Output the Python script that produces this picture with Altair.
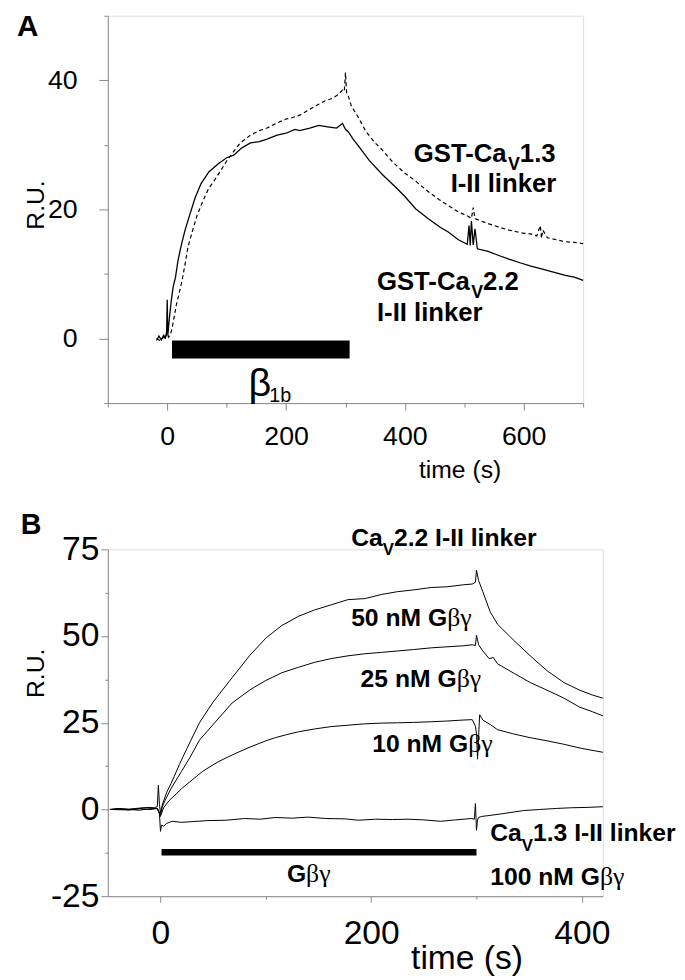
import altair as alt
import pandas as pd

# ---------------- Panel A data (time s, R.U.) ----------------
A22_t = [-18, -14, -10, -6, -3, -1, 0, 1, 2, 4, 7, 10, 14, 18, 23, 30, 38, 47, 57, 70, 85, 100, 112, 125,
         140, 155, 168, 185, 200, 215, 223, 240, 255, 270, 285, 295, 300, 305, 312, 323, 340, 362, 385, 400,
         418, 440, 460, 473, 490, 505, 508, 510, 512, 515, 518, 522, 540, 557, 575, 595, 612, 630, 650, 670,
         685, 700]
A22_ru = [-0.3, 0.4, -0.2, 0.5, 0.1, 1.0, 6.0, 0.5, 1.5, 3.5, 6.0, 8.0, 9.5, 12.0, 14.2, 16.8, 19.2, 21.8,
          24.0, 25.8, 27.0, 28.0, 28.4, 29.5, 30.3, 30.5, 30.9, 31.5, 31.8, 32.4, 32.2, 32.6, 33.0, 32.8,
          32.6, 33.3, 32.4, 32.0, 31.0, 29.7, 27.6, 25.4, 23.4, 22.0, 20.1, 18.5, 17.2, 16.5, 15.3, 14.6,
          17.5, 14.4, 18.2, 14.5, 17.0, 13.9, 13.5, 12.9, 12.3, 11.7, 11.2, 10.8, 10.3, 9.8, 9.5, 9.0]

A13_t = [-18, -12, -6, -2, 0, 2, 5, 8, 12, 16, 20, 25, 30, 35, 42, 50, 60, 70, 78, 90, 100, 112, 123, 140,
         155, 168, 185, 200, 210, 223, 240, 255, 265, 278, 288, 295, 298, 300, 302, 305, 310, 320, 335, 350,
         362, 380, 400, 418, 440, 458, 473, 490, 505, 512, 515, 518, 525, 540, 557, 575, 590, 600, 612, 622,
         628, 630, 632, 640, 655, 670, 685, 700]
A13_ru = [0.0, -0.3, 0.2, 0.0, 1.5, 0.2, 0.5, 1.5, 3.5, 5.5, 7.0, 9.0, 11.5, 14.2, 16.5, 19.0, 21.3, 23.3,
          24.3, 26.0, 27.5, 29.0, 30.3, 31.5, 32.2, 32.6, 33.4, 34.0, 34.2, 34.6, 35.5, 36.3, 36.8, 37.2,
          37.8, 38.5, 38.3, 41.2, 38.0, 37.5, 36.0, 34.5, 32.0, 30.3, 29.2, 27.3, 25.6, 24.4, 22.7, 21.5,
          20.6, 19.6, 19.0, 18.6, 20.3, 18.6, 18.3, 17.8, 17.3, 16.8, 16.5, 16.3, 16.2, 15.9, 17.5, 15.5,
          16.8, 15.6, 15.3, 15.0, 14.9, 14.7]

A_bar = {"t0": [8], "t1": [307], "y0": [-0.3], "y1": [-3.1]}

# ---------------- Panel B data ----------------
B50_t = [-48, -40, -30, -20, -12, -6, -3, -2, -1, 0, 1, 3, 6, 10, 13, 18, 25, 37, 50, 68, 85, 100, 115, 131,
         146, 162, 178, 194, 210, 225, 240, 257, 272, 288, 296, 299, 300, 302, 306, 313, 320, 336, 351, 367,
         383, 398, 410, 420]
B50_ru = [0.0, 0.2, -0.2, 0.3, 0.6, 0.5, 0.8, 7.0, 1.5, -1.0, 0.5, 2.5, 5.0, 7.5, 9.5, 13.0, 17.5, 25.0,
          31.0, 38.0, 44.5, 49.4, 53.0, 55.7, 57.5, 59.0, 60.5, 60.8, 62.0, 62.8, 63.3, 64.0, 64.2, 64.8,
          65.0, 65.5, 69.0, 66.0, 62.8, 57.0, 53.4, 48.6, 44.3, 40.0, 36.6, 34.4, 33.0, 32.1]

B25_t = [-48, -35, -20, -10, -3, 0, 2, 5, 10, 15, 20, 28, 37, 50, 68, 85, 100, 115, 131, 146, 162, 178, 194,
         210, 225, 240, 257, 272, 288, 296, 299, 300, 302, 306, 312, 316, 320, 336, 351, 367, 383, 398, 410,
         420]
B25_ru = [0.0, 0.1, -0.2, 0.2, 0.3, -1.5, 1.0, 3.0, 6.0, 8.5, 11.0, 15.0, 20.0, 24.5, 30.7, 34.5, 37.2, 39.4,
          41.0, 42.4, 43.5, 44.3, 44.9, 45.3, 45.7, 46.1, 46.6, 46.9, 47.2, 47.5, 47.3, 50.3, 47.5, 45.7,
          43.5, 43.8, 42.0, 39.2, 36.6, 34.4, 32.1, 29.5, 28.2, 27.0]

B10_t = [-48, -35, -20, -10, -3, 0, 3, 8, 15, 20, 30, 40, 55, 70, 85, 100, 109, 120, 131, 146, 162, 178, 194,
         210, 225, 240, 257, 272, 288, 296, 299, 300, 301, 303, 306, 313, 320, 335, 351, 367, 383, 400, 420]
B10_ru = [0.0, -0.1, 0.2, 0.0, 0.3, -2.0, 0.5, 2.5, 4.5, 6.0, 8.5, 11.0, 13.8, 16.0, 18.0, 19.8, 20.7, 21.6,
          22.4, 23.2, 23.9, 24.3, 24.7, 24.9, 25.0, 25.1, 25.3, 25.5, 25.8, 25.9, 24.0, 22.0, 14.5, 27.3,
          25.8, 24.5, 23.0, 21.8, 20.7, 19.8, 18.8, 17.6, 16.5]

B13_t = [-48, -40, -30, -20, -12, -6, -3, -1, 0, 1, 3, 6, 11, 20, 30, 45, 62, 80, 95, 109, 125, 140, 157,
         175, 188, 204, 220, 235, 250, 266, 280, 295, 298, 299, 300, 301, 302, 305, 313, 325, 345, 360, 376,
         390, 405, 420]
B13_ru = [0.0, 0.3, 0.1, 0.4, 0.5, 0.3, 0.2, -1.0, -6.3, -4.5, -4.8, -4.0, -3.4, -3.7, -3.5, -3.2, -3.1, -2.6,
          -2.8, -2.3, -2.5, -2.2, -2.6, -2.7, -3.1, -2.8, -2.9, -2.8, -3.0, -3.4, -3.0, -2.6, -2.8, 1.7,
          -6.0, -3.0, -2.3, -2.0, -1.7, -1.2, -0.3, 0.0, 0.3, 0.5, 0.6, 0.8]

B_bar = {"t0": [1], "t1": [300], "y0": [-11.4], "y1": [-13.3]}

# Text annotations: anchor (time, R.U.) and parts (text, style)
A_labels = [
    (415, 27.4, [("GST-Ca", "b"), ("V", "sub"), ("1.3", "b")]),
    (477, 22.7, [("I-II linker", "b")]),
    (353, 7.5, [("GST-Ca", "b"), ("V", "sub"), ("2.2", "b")]),
    (353, 2.75, [("I-II linker", "b")]),
    (137, -8.9, [("β", "big"), ("1b", "small")]),
]
B_labels = [
    (181, 76.1, [("Ca", "b"), ("V", "sub"), ("2.2 I-II linker", "b")]),
    (181, 52.8, [("50 nM G", "b"), ("βγ", "greek")]),
    (190, 35.2, [("25 nM G", "b"), ("βγ", "greek")]),
    (201, 16.5, [("10 nM G", "b"), ("βγ", "greek")]),
    (313, -9.1, [("Ca", "b"), ("V", "sub"), ("1.3 I-II linker", "b")]),
    (313, -21.9, [("100 nM G", "b"), ("βγ", "greek")]),
    (120, -21.0, [("G", "b"), ("βγ", "greek")]),
]

FONT = "Liberation Sans"
BOLDW = {' ': 278, '-': 333, '.': 278, 'C': 722, 'G': 778, 'I': 278, 'M': 833, 'S': 667, 'T': 611,
         'V': 667, 'a': 556, 'b': 611, 'e': 556, 'i': 278, 'k': 556, 'l': 278, 'n': 611, 'r': 389}
REGW = {'1': 556, 'b': 556, 'β': 575, 'γ': 500}


def text_width(s, size, bold):
    tbl = BOLDW if bold else REGW
    return sum(tbl.get(c, 556) for c in s) * size / 1000.0


def trace_df(t, ru, name):
    assert len(t) == len(ru), name
    return pd.DataFrame({"t": t, "ru": ru, "trace": name, "i": list(range(len(t)))})


def label_layers(labels, xs, ys, base, sub, subdy):
    styles = {
        "b": dict(fontSize=base, fontWeight="bold", font=FONT, dy=0),
        "sub": dict(fontSize=sub, fontWeight="bold", font=FONT, dy=subdy),
        "greek": dict(fontSize=base + 1, fontWeight="normal", font="Liberation Serif", dy=0),
        "big": dict(fontSize=40, fontWeight="normal", font=FONT, dy=0),
        "small": dict(fontSize=20, fontWeight="normal", font=FONT, dy=6),
    }
    layers = []
    for t, ru, parts in labels:
        dx = 0.0
        for txt, st in parts:
            s = styles[st]
            df = pd.DataFrame({"t": [t], "ru": [ru], "txt": [txt]})
            layers.append(
                alt.Chart(df).mark_text(align="left", baseline="alphabetic", dx=dx, color="black", **s)
                .encode(x=alt.X("t:Q", scale=xs), y=alt.Y("ru:Q", scale=ys), text="txt:N")
            )
            bold = s["fontWeight"] == "bold"
            w = text_width(txt, s["fontSize"], bold)
            if st == "big":
                w = 21
            dx += w
    return layers


# ---------------- Panel A ----------------
xsA = alt.Scale(domain=[-100, 700], nice=False, zero=False)
ysA = alt.Scale(domain=[-10, 50], nice=False, zero=False)

xaxA = alt.Axis(values=[-100, 0, 100, 200, 300, 400, 500, 600, 700],
                labelExpr="datum.value % 200 === 0 ? '' + datum.value : ''",
                tickSize={"condition": {"test": "datum.value % 200 === 0", "value": 7}, "value": 4},
                labelFontSize=27, labelPadding=14, labelFlush=False, labelOverlap=False,
                title="time (s)", titleFontSize=25, titleFontWeight="normal", titleX=356, titleY=67,
                titleAlign="center", titleBaseline="middle", grid=False)
yaxA = alt.Axis(values=[-10, 0, 10, 20, 30, 40, 50],
                labelExpr="datum.value % 20 === 0 ? '' + datum.value : ''",
                tickSize={"condition": {"test": "datum.value % 20 === 0", "value": 9}, "value": 4},
                labelFontSize=27, labelPadding=22, labelFlush=False, labelOverlap=False,
                title="R.U.", titleFontSize=25, titleFontWeight="normal", titleX=-73, titleY=191,
                titleAngle=270, titleAlign="center", titleBaseline="middle", grid=False)

dA22 = trace_df(A22_t, A22_ru, "CaV2.2")
dA13 = trace_df(A13_t, A13_ru, "CaV1.3")

lineA22 = alt.Chart(dA22).mark_line(color="black", strokeWidth=1.3).encode(
    x=alt.X("t:Q", scale=xsA, axis=xaxA), y=alt.Y("ru:Q", scale=ysA, axis=yaxA), order="i:Q")
lineA13 = alt.Chart(dA13).mark_line(color="black", strokeWidth=1.2, strokeDash=[4, 3]).encode(
    x=alt.X("t:Q", scale=xsA), y=alt.Y("ru:Q", scale=ysA), order="i:Q")
barA = alt.Chart(pd.DataFrame(A_bar)).mark_rect(color="black").encode(
    x=alt.X("t0:Q", scale=xsA), x2="t1:Q", y=alt.Y("y0:Q", scale=ysA), y2="y1:Q")

chartA = alt.layer(lineA22, lineA13, barA, *label_layers(A_labels, xsA, ysA, 26, 18, 8)).properties(
    width=481, height=392,
    title=alt.TitleParams("A", anchor="start", frame="group", dx=-92, dy=65, offset=0, fontSize=30,
                          fontWeight="bold", font=FONT, baseline="alphabetic"))

# ---------------- Panel B ----------------
xsB = alt.Scale(domain=[-50, 420], nice=False, zero=False)
ysB = alt.Scale(domain=[-25, 75], nice=False, zero=False)

xaxB = alt.Axis(values=[0, 100, 200, 300, 400],
                labelExpr="datum.value % 200 === 0 ? '' + datum.value : ''",
                tickSize={"condition": {"test": "datum.value % 200 === 0", "value": 6}, "value": 3},
                labelFontSize=34, labelPadding=15, labelFlush=False, labelOverlap=False,
                title="time (s)", titleFontSize=34, titleFontWeight="normal", titleX=363, titleY=63,
                titleAlign="center", titleBaseline="middle", grid=False)
yaxB = alt.Axis(values=[-25, -12.5, 0, 12.5, 25, 37.5, 50, 62.5, 75],
                labelExpr="datum.value % 25 === 0 ? '' + datum.value : ''",
                tickSize={"condition": {"test": "datum.value % 25 === 0", "value": 7}, "value": 3},
                labelFontSize=34, labelPadding=2, labelFlush=False, labelOverlap=False,
                title="R.U.", titleFontSize=25, titleFontWeight="normal", titleX=-73, titleY=125,
                titleAngle=270, titleAlign="center", titleBaseline="middle", grid=False)

dB = pd.concat([trace_df(B50_t, B50_ru, "50"), trace_df(B25_t, B25_ru, "25"),
                trace_df(B10_t, B10_ru, "10"), trace_df(B13_t, B13_ru, "13")])

lineB = alt.Chart(dB).mark_line(color="black", strokeWidth=1.0).encode(
    x=alt.X("t:Q", scale=xsB, axis=xaxB), y=alt.Y("ru:Q", scale=ysB, axis=yaxB),
    detail="trace:N", order="i:Q")
barB = alt.Chart(pd.DataFrame(B_bar)).mark_rect(color="black").encode(
    x=alt.X("t0:Q", scale=xsB), x2="t1:Q", y=alt.Y("y0:Q", scale=ysB), y2="y1:Q")

chartB = alt.layer(lineB, barB, *label_layers(B_labels, xsB, ysB, 25, 17, 10)).properties(
    width=501, height=351,
    title=alt.TitleParams("B", anchor="start", frame="group", dx=-88, dy=37, offset=0, fontSize=29,
                          fontWeight="bold", font=FONT, baseline="alphabetic"))

chart = alt.vconcat(chartA, chartB, spacing=148, bounds="flush").properties(
    padding={"left": 8, "top": -13, "right": 0, "bottom": 0}
).configure_view(stroke=None).configure_axis(
    labelFont=FONT, titleFont=FONT, titleFontWeight="normal", labelColor="black", titleColor="black",
    domainColor="black", domainWidth=1.6, tickColor="black", tickWidth=1.3
).configure(background="white")

chart.save("out.html", embed_options={"renderer": "svg", "actions": False})
